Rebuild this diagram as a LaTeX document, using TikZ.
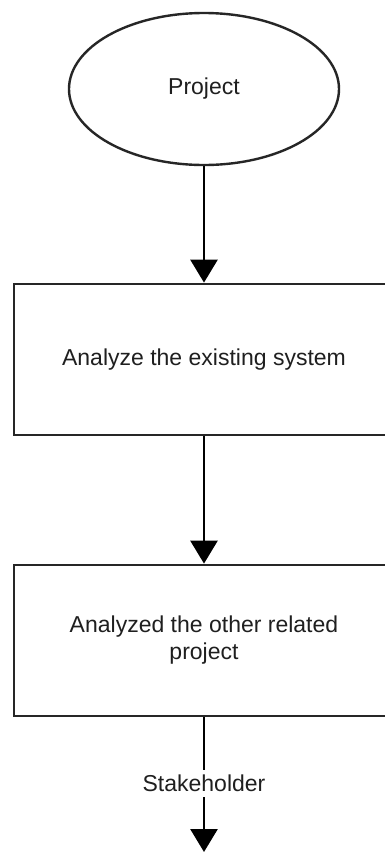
\documentclass[tikz,border=0pt]{standalone}
\usepackage{fontspec}
\setmainfont{Liberation Sans}
\usetikzlibrary{shapes.geometric,arrows.meta}
\begin{document}
\begin{tikzpicture}[x=1pt,y=-1pt,
  every node/.style={font=\fontsize{23}{27}\selectfont, text=black!88},
  startnode/.style={ellipse,draw=black!85,line width=2.4pt,minimum width=270pt,minimum height=152pt,inner sep=0pt},
  stepbox/.style={rectangle,draw=black!85,line width=2.8pt,minimum width=380pt,minimum height=151pt,align=center,inner sep=0pt},
  flow/.style={line width=2.8pt,draw=black,-{Triangle[width=27pt,length=23pt]}}]
\useasboundingbox (0,0) rectangle (385,852);
\clip (0,0) rectangle (385,852);
\fill[white] (0,0) rectangle (385,852);
\node[startnode] (proj) at (204,89) {Project};
\node[stepbox] (ana) at (204,359.5) {Analyze the existing system};
\node[stepbox] (rel) at (204,640.5) {Analyzed the other related\\project};
\coordinate (endpt) at (204,852);
\draw[flow] (proj) -- (ana);
\draw[flow] (ana) -- (rel);
\draw[flow] (rel) -- node[fill=white,inner sep=5pt,pos=0.49] (stk) {Stakeholder} (endpt);
\end{tikzpicture}
\end{document}
